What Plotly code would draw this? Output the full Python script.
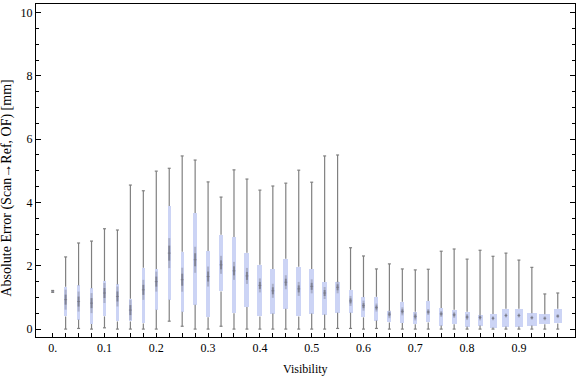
import plotly.graph_objects as go

# ---- data ----
visibility = [0.0, 0.025, 0.05, 0.075, 0.1, 0.125, 0.15, 0.175, 0.2, 0.225,
              0.25, 0.275, 0.3, 0.325, 0.35, 0.375, 0.4, 0.425, 0.45, 0.475,
              0.5, 0.525, 0.55, 0.575, 0.6, 0.625, 0.65, 0.675, 0.7, 0.725,
              0.75, 0.775, 0.8, 0.825, 0.85, 0.875, 0.9, 0.925, 0.95, 0.975]
whisker_low = [1.16, 0.0, 0.02, 0.0, 0.04, 0.0, 0.0, 0.0, 0.0, 0.25,
               0.09, 0.0, 0.0, 0.09, 0.0, 0.0, 0.0, 0.0, 0.0, 0.0,
               0.0, 0.0, 0.02, 0.02, 0.0, 0.02, 0.0, 0.0, 0.0, 0.0,
               0.0, 0.0, 0.0, 0.0, 0.0, 0.0, 0.0, 0.0, 0.0, 0.0]
q1 = [1.18, 0.40, 0.30, 0.16, 0.40, 0.24, 0.24, 0.18, 0.61, 0.93,
      0.55, 0.77, 0.37, 1.19, 0.50, 0.70, 0.40, 0.49, 0.64, 0.40,
      0.49, 0.46, 0.52, 0.52, 0.37, 0.27, 0.21, 0.19, 0.15, 0.21,
      0.11, 0.15, 0.08, 0.11, 0.05, 0.08, 0.08, 0.11, 0.15, 0.18]
median = [1.19, 0.93, 0.87, 0.82, 1.14, 1.03, 0.60, 1.24, 1.50, 2.40,
          1.56, 2.19, 1.66, 2.03, 1.84, 1.68, 1.38, 1.21, 1.48, 1.27,
          1.35, 1.14, 1.32, 0.89, 0.74, 0.68, 0.47, 0.56, 0.40, 0.54,
          0.48, 0.45, 0.38, 0.37, 0.34, 0.43, 0.43, 0.36, 0.34, 0.41]
q3 = [1.20, 1.34, 1.38, 1.29, 1.52, 1.41, 0.96, 1.94, 1.90, 3.89,
      2.44, 3.67, 2.47, 2.98, 2.91, 2.41, 2.03, 1.90, 2.22, 1.97,
      1.90, 1.49, 1.49, 1.24, 1.01, 1.02, 0.58, 0.86, 0.55, 0.89,
      0.67, 0.61, 0.55, 0.45, 0.48, 0.64, 0.64, 0.50, 0.47, 0.64]
whisker_high = [1.22, 2.28, 2.72, 2.78, 3.17, 3.13, 4.55, 4.37, 4.99, 5.08,
                5.47, 5.34, 4.65, 4.17, 5.03, 4.74, 4.39, 4.52, 4.61, 5.02,
                4.64, 5.47, 5.50, 2.57, 2.31, 1.90, 2.06, 1.90, 1.87, 1.89,
                2.46, 2.53, 2.21, 2.49, 2.30, 2.40, 2.18, 1.95, 1.11, 1.14]
tick_values = [0.0, 0.1, 0.2, 0.3, 0.4, 0.5, 0.6, 0.7, 0.8, 0.9]
tick_labels = ["0.", "0.1", "0.2", "0.3", "0.4", "0.5", "0.6", "0.7", "0.8", "0.9"]

# ---- styles (pixel sizes) ----
box_width_px = [2, 3.2, 3.2, 3.2, 3.2, 3.2, 3.2, 3, 3, 2.8,
                2.8, 4, 3.6, 4, 4.3, 5, 5, 5.3, 5, 5,
                5, 4.7, 4.7, 4, 4, 4, 4, 4.3, 4.3, 4.3,
                4.3, 5, 5, 5, 7, 7, 7.7, 9.7, 10.7, 7.7]
streak_half_px = [0, 10, 10, 10, 10, 10, 10, 10, 10, 15,
                  12, 13, 10, 9, 9, 8, 7, 7, 7, 7,
                  7, 6, 6, 5, 5, 4, 4, 4, 4, 3,
                  3, 3, 3, 3, 2, 2, 2, 2, 2, 2]

X_RANGE = [-0.0322, 1.0083]
Y_RANGE = [-0.25, 10.27]
PX_PER_X = 539 / (X_RANGE[1] - X_RANGE[0])
PX_PER_Y = 333 / (Y_RANGE[1] - Y_RANGE[0])

BOX_FILL = "#ccd4f5"
WHISKER = "#808080"
FONT = "Liberation Serif"

cap = 1.5 / PX_PER_X

wx, wy, cx, cy = [], [], [], []
for v, lo, a, b, hi in zip(visibility, whisker_low, q1, q3, whisker_high):
    wx += [v, v, None, v, v, None]
    wy += [lo, a, None, b, hi, None]
    cx += [v - cap, v + cap, None, v - cap, v + cap, None]
    cy += [lo, lo, None, hi, hi, None]

sx_out, sy_out, sx_in, sy_in, mx, my = [], [], [], [], [], []
for v, m, h in zip(visibility, median, streak_half_px):
    hv = h / PX_PER_Y
    sx_out += [v, v, None]
    sy_out += [m - hv, m + hv, None]
    sx_in += [v, v, None]
    sy_in += [m - hv * 0.5, m + hv * 0.5, None]
    mx += [v - cap, v + cap, None]
    my += [m, m, None]

fig = go.Figure()
fig.add_trace(go.Bar(
    x=visibility,
    y=[b - a for a, b in zip(q1, q3)],
    base=q1,
    width=[w / PX_PER_X for w in box_width_px],
    marker=dict(color=BOX_FILL, line=dict(width=0)),
    hoverinfo="skip",
))
fig.add_trace(go.Scatter(x=wx, y=wy, mode="lines",
                         line=dict(color=WHISKER, width=1.2), hoverinfo="skip"))
fig.add_trace(go.Scatter(x=cx, y=cy, mode="lines",
                         line=dict(color=WHISKER, width=1.2), hoverinfo="skip"))
fig.add_trace(go.Scatter(x=sx_out, y=sy_out, mode="lines",
                         line=dict(color="rgba(110,110,120,0.35)", width=2), hoverinfo="skip"))
fig.add_trace(go.Scatter(x=sx_in, y=sy_in, mode="lines",
                         line=dict(color="rgba(90,90,100,0.5)", width=2), hoverinfo="skip"))
fig.add_trace(go.Scatter(x=mx, y=my, mode="lines",
                         line=dict(color="rgba(110,110,120,0.6)", width=1), hoverinfo="skip"))

fig.update_layout(
    width=576, height=377,
    margin=dict(l=36, r=1, t=4, b=40),
    paper_bgcolor="white", plot_bgcolor="white",
    showlegend=False, bargap=0,
    font=dict(family=FONT, size=12, color="black"),
    xaxis=dict(
        range=X_RANGE, showgrid=False, zeroline=False,
        showline=True, linecolor="black", linewidth=1, mirror=True,
        tickmode="array", tickvals=tick_values, ticktext=tick_labels,
        ticks="inside", ticklen=4, tickwidth=1, tickcolor="black",
        minor=dict(tickmode="array", tickvals=visibility, ticks="inside",
                   ticklen=4, tickwidth=1, tickcolor="black"),
        tickfont=dict(family=FONT, size=12, color="black"),
    ),
    yaxis=dict(
        range=Y_RANGE, showgrid=False, zeroline=False,
        showline=True, linecolor="black", linewidth=1, mirror="allticks",
        tickmode="array", tickvals=[0, 2, 4, 6, 8, 10],
        ticks="inside", ticklen=5, tickwidth=1, tickcolor="black",
        minor=dict(dtick=0.5, tick0=0, ticks="inside", ticklen=3,
                   tickwidth=1, tickcolor="black"),
        tickfont=dict(family=FONT, size=12, color="black"),
    ),
    annotations=[
        dict(text="Visibility", xref="paper", yref="paper",
             x=0.5, y=-0.096, xanchor="center", yanchor="middle",
             showarrow=False, font=dict(family=FONT, size=12, color="black")),
        dict(text="Absolute Error (Scan\u2192Ref, OF) [mm]", xref="paper", yref="paper",
             x=-0.0529, y=0.447, xanchor="center", yanchor="middle", textangle=-90,
             showarrow=False, font=dict(family=FONT, size=14, color="black")),
    ],
)

fig.write_html("out.html", config={"displayModeBar": False},
               post_script="document.body.style.margin='0';document.body.style.overflow='hidden';")
